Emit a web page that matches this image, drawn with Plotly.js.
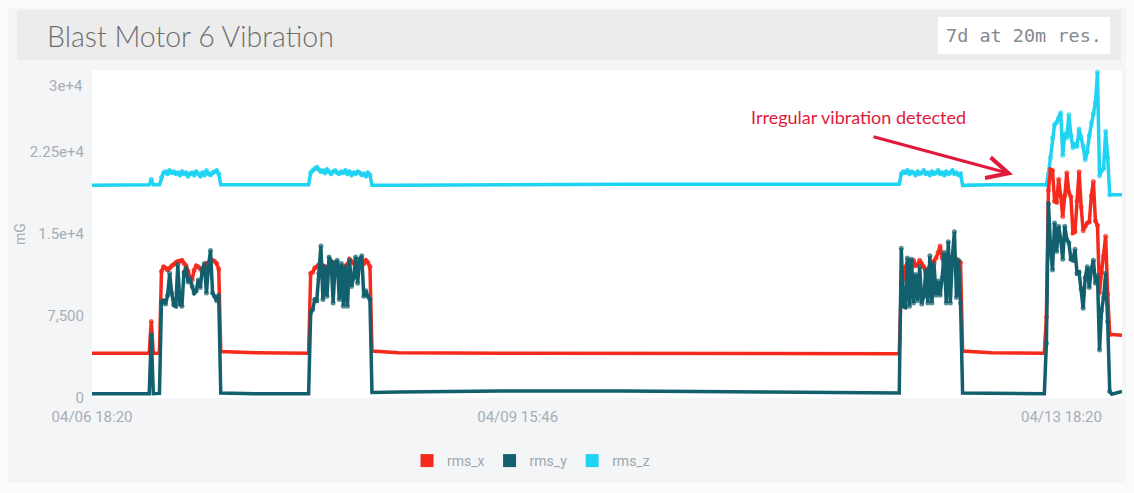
<!DOCTYPE html>
<html>
<head>
<meta charset="utf-8">
<script src="https://cdn.plot.ly/plotly-3.0.1.min.js"></script>
<style>
  html, body { margin: 0; padding: 0; background: #fbfbfb; }
  #card { position: absolute; left: 8px; top: 8px; width: 1118px; height: 475px; background: #f4f5f7; }
  #hdr { position: absolute; left: 17px; top: 10px; width: 1104px; height: 50px; background: #ececec; }
  #chart { position: absolute; left: 0; top: 0; width: 1134px; height: 493px; }
</style>
</head>
<body>
<div id="card"></div>
<div id="hdr"></div>
<div id="chart"></div>
<script>
// ---------- data ----------
const chartTitle = 'Blast Motor 6 Vibration';
const resolutionLabel = '7d at 20m res.';
const seriesNames = ['rms_x', 'rms_y', 'rms_z'];
const yUnit = 'mG';
const yTickVals = [0, 7500, 15000, 22500, 30000];
const yTickLabels = ['0', '7,500', '1.5e+4', '2.25e+4', '3e+4'];
const xTickVals = ['2021-04-06 18:20', '2021-04-09 15:46', '2021-04-13 18:20'];
const xTickLabels = ['04/06 18:20', '04/09 15:46', '04/13 18:20'];
const noteText = 'Irregular vibration detected';
const notePoint = { x: '2021-04-13 00:33', y: 20450 };
const noteTextPos = { x: '2021-04-11 23:26', y: 25700 };

const times = [
  '2021-04-06 18:20', '2021-04-07 03:40', '2021-04-07 04:00', '2021-04-07 04:20', '2021-04-07 05:20',
  // run 1
  '2021-04-07 05:40', '2021-04-07 06:00', '2021-04-07 06:20', '2021-04-07 06:40', '2021-04-07 07:00',
  '2021-04-07 07:20', '2021-04-07 07:40', '2021-04-07 08:00', '2021-04-07 08:20', '2021-04-07 08:40',
  '2021-04-07 09:00', '2021-04-07 09:20', '2021-04-07 09:40', '2021-04-07 10:00', '2021-04-07 10:20',
  '2021-04-07 10:40', '2021-04-07 11:00', '2021-04-07 11:20', '2021-04-07 11:40', '2021-04-07 12:00',
  '2021-04-07 12:20', '2021-04-07 12:40', '2021-04-07 13:00', '2021-04-07 13:20', '2021-04-07 13:40',
  '2021-04-07 14:00', '2021-04-07 14:20', '2021-04-07 14:40', '2021-04-07 15:00',
  '2021-04-07 15:20', '2021-04-07 21:00', '2021-04-08 05:40',
  // run 2
  '2021-04-08 06:00', '2021-04-08 06:20', '2021-04-08 06:40', '2021-04-08 07:00', '2021-04-08 07:20',
  '2021-04-08 07:40', '2021-04-08 08:00', '2021-04-08 08:20', '2021-04-08 08:40', '2021-04-08 09:00',
  '2021-04-08 09:20', '2021-04-08 09:40', '2021-04-08 10:00', '2021-04-08 10:20', '2021-04-08 10:40',
  '2021-04-08 11:00', '2021-04-08 11:20', '2021-04-08 11:40', '2021-04-08 12:00', '2021-04-08 12:20',
  '2021-04-08 12:40', '2021-04-08 13:00', '2021-04-08 13:20', '2021-04-08 13:40', '2021-04-08 14:00',
  '2021-04-08 14:20', '2021-04-08 14:40', '2021-04-08 15:00', '2021-04-08 15:20', '2021-04-08 15:40',
  '2021-04-08 16:00', '2021-04-08 20:20', '2021-04-09 13:00', '2021-04-10 09:00', '2021-04-11 08:20',
  '2021-04-12 06:00',
  // run 3
  '2021-04-12 06:20', '2021-04-12 06:40', '2021-04-12 07:00', '2021-04-12 07:20', '2021-04-12 07:40',
  '2021-04-12 08:00', '2021-04-12 08:20', '2021-04-12 08:40', '2021-04-12 09:00', '2021-04-12 09:20',
  '2021-04-12 09:40', '2021-04-12 10:00', '2021-04-12 10:20', '2021-04-12 10:40', '2021-04-12 11:00',
  '2021-04-12 11:20', '2021-04-12 11:40', '2021-04-12 12:00', '2021-04-12 12:20', '2021-04-12 12:40',
  '2021-04-12 13:00', '2021-04-12 13:20', '2021-04-12 13:40', '2021-04-12 14:00', '2021-04-12 14:20',
  '2021-04-12 14:40', '2021-04-12 15:00', '2021-04-12 15:20', '2021-04-12 15:40', '2021-04-12 16:00',
  '2021-04-12 16:20', '2021-04-12 21:00', '2021-04-13 05:40',
  // run 4 (irregular)
  '2021-04-13 06:00', '2021-04-13 06:20', '2021-04-13 06:40', '2021-04-13 07:00', '2021-04-13 07:20',
  '2021-04-13 07:40', '2021-04-13 08:00', '2021-04-13 08:20', '2021-04-13 08:40', '2021-04-13 09:00',
  '2021-04-13 09:20', '2021-04-13 09:40', '2021-04-13 10:00', '2021-04-13 10:20', '2021-04-13 10:40',
  '2021-04-13 11:00', '2021-04-13 11:20', '2021-04-13 11:40', '2021-04-13 12:00', '2021-04-13 12:20',
  '2021-04-13 12:40', '2021-04-13 13:00', '2021-04-13 13:20', '2021-04-13 13:40', '2021-04-13 14:00',
  '2021-04-13 14:20', '2021-04-13 14:40', '2021-04-13 15:00', '2021-04-13 15:20', '2021-04-13 15:40',
  '2021-04-13 16:00', '2021-04-13 16:20',
  '2021-04-13 16:40', '2021-04-13 18:20'
];

const rmsX = [
  4100, 4100, 7000, 4100, 4100,
  11600, 12000, 11900, 11700, 11900, 12100, 12200, 12400, 12500, 12500,
  12600, 12300, 12100, 11600, 11000, 10800, 11700, 12100, 12000, 11800,
  11500, 11900, 12300, 12400, 12500, 12600, 12500, 12300, 11800,
  4250, 4150, 4100,
  11400, 11500, 11900, 12000, 12200, 12300, 12100, 12000, 11700, 11900,
  12300, 12400, 12000, 11800, 11900, 12000, 11800, 12100, 12200, 12700,
  12500, 12300, 12100, 12000, 12300, 12500, 12300, 12600, 12400, 12000,
  4300, 4150, 4100, 4080, 4050, 4050,
  10500, 10800, 12000, 12300, 12600, 12000, 12600, 12100, 12200, 12600,
  12300, 12000, 11400, 11800, 12000, 12300, 12500, 12800, 13300, 13900,
  12800, 12200, 12100, 12500, 12800, 12900, 13000, 12700, 12500, 12400,
  4300, 4150, 4100,
  7400, 19000, 20900, 20800, 18000, 17900, 20000, 18500, 16600, 18500,
  20600, 18800, 18400, 15100, 15200, 18000, 20700, 17500, 15300, 15700,
  16000, 16100, 18500, 19800, 16200, 15800, 9600, 11500, 13000, 14800,
  9500, 5800,
  5800, 5750
];

const rmsY = [
  380, 380, 5800, 400, 420,
  8800, 8900, 8600, 9400, 11400, 9600, 8500, 8400, 12200, 8600,
  8400, 11500, 11900, 10600, 10900, 10200, 9600, 9800, 10800, 10100,
  11800, 12300, 9600, 12000, 13500, 9600, 9300, 8900, 9400,
  450, 400, 380,
  7800, 8100, 9000, 8900, 11400, 13900, 9000, 12000, 9300, 12900,
  12500, 8700, 12300, 12600, 9000, 12300, 8400, 12000, 8400, 12600,
  10200, 11000, 12900, 10500, 12700, 13000, 9300, 9800, 9300, 9000,
  500, 550, 650, 650, 550, 450,
  13700, 8400, 8300, 12800, 8400, 12700, 8700, 11300, 8900, 12000,
  8600, 9300, 11700, 8700, 13000, 8700, 12300, 9400, 10700, 9400,
  11000, 13300, 8700, 14300, 8700, 12900, 15200, 9200, 12600, 8700,
  450, 420, 400,
  5000, 17800, 13900, 11700, 16000, 13400, 15700, 14500, 12700, 15700,
  14500, 14200, 12700, 12600, 13600, 11400, 11500, 10000, 8200, 11000,
  12000, 10100, 11800, 12600, 10500, 11200, 4400, 8000, 9200, 11400,
  7000, 600,
  350, 600
];

const rmsZ = [
  19450, 19500, 20000, 19500, 19500,
  20200, 20600, 20700, 20500, 20800, 20600, 20700, 20500, 20600, 20400,
  20700, 20500, 20600, 20300, 20500, 20600, 20400, 20700, 20500, 20300,
  20600, 20400, 20800, 20500, 20400, 20600, 20700, 20800, 20500,
  19500, 19500, 19500,
  20600, 20800, 21000, 21100, 20900, 20700, 20800, 20600, 20900, 20700,
  20500, 20700, 20800, 20600, 20500, 20700, 20600, 20800, 20500, 20700,
  20400, 20600, 20500, 20700, 20600, 20400, 20500, 20300, 20600, 20400,
  19450, 19450, 19500, 19550, 19550, 19550,
  20500, 20700, 20600, 20800, 20500, 20700, 20600, 20400, 20700, 20500,
  20600, 20800, 20500, 20600, 20400, 20700, 20500, 20600, 20800, 20500,
  20600, 20400, 20700, 20500, 20600, 20800, 20500, 20600, 20400, 20500,
  19450, 19500, 19500,
  19500, 20500, 22000, 23800, 25000, 25200, 25600, 26100, 22200, 24200,
  23800, 25900, 24000, 22900, 23200, 23000, 24600, 23900, 23000, 21800,
  22500, 24000, 25200, 26000, 27000, 29800, 20300, 20800, 21000, 24400,
  22000, 18600,
  18600, 18600
];

// ---------- styling ----------
const colors = { rms_x: '#f52a1d', rms_y: '#125f6d', rms_z: '#1fd3f2' };
const tickFont = { family: 'Roboto, sans-serif', size: 15, color: '#a7adb5' };

// markers only on densely sampled (20-minute) stretches; long flat stretches are plain line
const STEP = 20 * 60 * 1000;
const tms = times.map(t => new Date(t.replace(' ', 'T') + ':00Z').getTime());
const markerSizes = tms.map((t, i) => {
  const gp = i > 0 ? t - tms[i - 1] : STEP;
  const gn = i < tms.length - 1 ? tms[i + 1] - t : STEP;
  return (gp <= STEP && gn <= STEP) ? 5 : 0;
});

function lineTrace(name, values) {
  return {
    type: 'scatter', mode: 'lines+markers', name: name,
    x: times, y: values,
    line: { color: colors[name], width: 3.5 },
    marker: { color: colors[name], size: markerSizes, line: { width: 0 } },
    showlegend: false, hoverinfo: 'x+y+name'
  };
}
function legendTrace(name) {
  return {
    type: 'scatter', mode: 'markers', name: name,
    x: [null], y: [null],
    marker: { color: colors[name], size: 13, symbol: 'square', line: { width: 0 } },
    showlegend: true
  };
}

const data = [
  lineTrace('rms_z', rmsZ),
  lineTrace('rms_x', rmsX),
  lineTrace('rms_y', rmsY),
  legendTrace('rms_x'), legendTrace('rms_y'), legendTrace('rms_z')
];

const shownYTicks = yTickLabels.map((t, i) => (i === yTickLabels.length - 1 ? '' : t));

const layout = {
  width: 1134, height: 493,
  margin: { l: 92, r: 12, t: 70, b: 95 },
  paper_bgcolor: 'rgba(0,0,0,0)',
  plot_bgcolor: '#ffffff',
  title: {
    text: chartTitle,
    font: { family: 'Lato, sans-serif', size: 28.5, color: '#6e6e6e', weight: 300 },
    xref: 'container', yref: 'container',
    x: 47 / 1134, xanchor: 'left',
    y: 1 - 37 / 493, yanchor: 'middle'
  },
  xaxis: {
    type: 'date',
    range: [xTickVals[0], xTickVals[2]],
    tickmode: 'array',
    tickvals: xTickVals.slice(0, 2),
    ticktext: xTickLabels.slice(0, 2),
    tickfont: tickFont,
    ticks: '', showgrid: false, zeroline: false, showline: false,
    ticklabelstandoff: 8,
    fixedrange: true
  },
  yaxis: {
    range: [0, 30000],
    tickmode: 'array',
    tickvals: yTickVals,
    ticktext: shownYTicks,
    tickfont: tickFont,
    ticks: '', showgrid: false, zeroline: false, showline: false,
    ticklabelstandoff: 7,
    title: { text: yUnit, font: { family: 'Roboto, sans-serif', size: 14, color: '#a7adb5' }, standoff: 0 },
    fixedrange: true
  },
  legend: {
    orientation: 'h',
    xref: 'container', yref: 'container',
    x: 531 / 1134, xanchor: 'center',
    y: 1 - 461 / 493, yanchor: 'middle',
    font: { family: 'Roboto, sans-serif', size: 14, color: '#a0a6ad' },
    bgcolor: 'rgba(0,0,0,0)',
    itemwidth: 30
  },
  annotations: [
    // top y tick label kept inside the plot (as in the reference)
    {
      xref: 'paper', yref: 'y', x: 0, y: yTickVals[yTickVals.length - 1],
      text: yTickLabels[yTickLabels.length - 1], showarrow: false,
      xanchor: 'right', yanchor: 'middle', xshift: -7, yshift: -16,
      font: tickFont
    },
    // last x tick label, right-aligned so it stays inside the card
    {
      xref: 'x', yref: 'paper', x: xTickVals[2], y: 0,
      text: xTickLabels[2], showarrow: false,
      xanchor: 'right', yanchor: 'top', xshift: -18, yshift: -8,
      font: tickFont
    },
    // resolution badge (top-right of header)
    {
      xref: 'paper', yref: 'paper',
      x: (1024 - 92) / 1030, y: (398 - 35) / 328,
      text: resolutionLabel, showarrow: false,
      xanchor: 'center', yanchor: 'middle',
      font: { family: 'DejaVu Sans Mono, monospace', size: 18.5, color: '#84888f' },
      bgcolor: '#ffffff', borderpad: 7, bordercolor: '#ffffff', borderwidth: 1
    },
    // callout text
    {
      xref: 'x', yref: 'y', x: noteTextPos.x, y: noteTextPos.y,
      text: noteText, showarrow: false,
      xanchor: 'center', yanchor: 'middle',
      font: { family: 'Lato, sans-serif', size: 18, color: '#e01a3c' }
    },
    // callout arrow
    {
      xref: 'x', yref: 'y', x: notePoint.x, y: notePoint.y,
      text: ' ', font: { size: 1 },
      showarrow: true, arrowhead: 5, arrowsize: 1.4, arrowwidth: 3,
      arrowcolor: '#e01a3c', ax: -141, ay: -38
    }
  ],
  hovermode: 'closest'
};

Plotly.newPlot('chart', data, layout, { displayModeBar: false });
</script>
</body>
</html>
